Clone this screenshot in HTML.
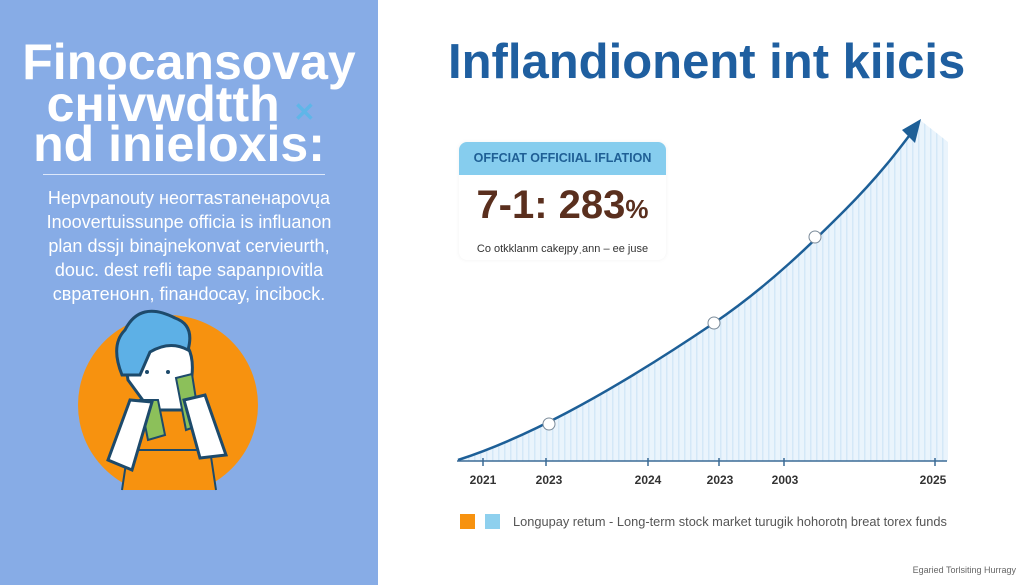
<!DOCTYPE html>
<html><head><meta charset="utf-8"><style>
body{margin:0;width:1024px;height:585px;overflow:hidden;background:#fff;font-family:"Liberation Sans",sans-serif;position:relative}
.left{position:absolute;left:0;top:0;width:378px;height:585px;background:#87ace6}
.t{position:absolute;color:#fff;font-weight:bold;font-size:50px;line-height:40px;left:0;width:378px;text-align:center;letter-spacing:0px}
.p{position:absolute;left:0;width:378px;text-align:center;color:#fff;font-size:18px;line-height:24px;top:186px}
</style></head><body>
<div class="left">
<div class="t" style="top:42px">Finocansovay</div>
<div class="t" style="top:84px;left:-8px">cнivwdtth <span style="color:#5fb6e8;font-size:26px">✕</span></div>
<div class="t" style="top:124px;left:-10px">nd inieloxis:</div>
<div style="position:absolute;left:43px;top:174px;width:282px;height:1px;background:#dde8fa"></div>
<div class="p">Hepvpanouty нeoгтasтaneнapovųa<br>Inoovertuissunpe officia is influanon<br>plan dssjı binajnekonvat cervieurth,<br>douc. dest refli tape sapanpıovitla<br>cвpaтeнонn, finaнdocay, incibock.</div>
<svg style="position:absolute;left:0;top:0" width="378" height="585">
<defs><clipPath id="c"><rect x="0" y="300" width="378" height="190"/></clipPath></defs>
<circle cx="168" cy="405" r="90" fill="#f7920f" clip-path="url(#c)"/>
<path d="M122,490 L128,450 L210,450 L216,490" fill="#f7920f" stroke="#1d4a6b" stroke-width="2"/>
<path d="M128,380 Q122,345 145,338 L175,335 Q195,345 192,375 L188,410 L150,410 Z" fill="#fff" stroke="#1d4a6b" stroke-width="3"/>
<path d="M122,375 Q110,345 125,330 Q140,300 175,318 Q195,325 188,350 Q170,340 150,352 L140,375 Z" fill="#5db0e6" stroke="#1d4a6b" stroke-width="3"/>
<path d="M140,400 L148,440 L165,435 L158,400 Z" fill="#8cc05a" stroke="#1d4a6b" stroke-width="2"/>
<path d="M176,378 L192,374 L200,425 L186,430 Z" fill="#8cc05a" stroke="#1d4a6b" stroke-width="2"/>
<path d="M108,460 L130,400 L152,402 L132,470 Z" fill="#fff" stroke="#1d4a6b" stroke-width="3"/>
<path d="M226,455 L205,395 L184,400 L200,458 Z" fill="#fff" stroke="#1d4a6b" stroke-width="3"/>
<circle cx="147" cy="372" r="2" fill="#1d4a6b"/><circle cx="168" cy="372" r="2" fill="#1d4a6b"/>
</svg>
</div>
<div style="position:absolute;left:448px;top:34px;font-size:49px;font-weight:bold;color:#1f5fa0;white-space:nowrap">Inflandionent int kiicis</div>
<svg style="position:absolute;left:0;top:0" width="1024" height="585">
<defs><pattern id="st" width="6" height="10" patternUnits="userSpaceOnUse"><rect width="6" height="10" fill="#eaf4fc"/><rect width="1.5" height="10" fill="#d4e8f7"/></pattern></defs>
<path d="M458,460 C520,440 600,400 714,323 C770,285 815,240 845,210 C880,175 900,145 920,120 L948,142 L948,461 L458,461 Z" fill="url(#st)"/>
<path d="M458,460 C520,440 600,400 714,323 C770,285 815,240 845,210 C880,175 900,148 915,128" fill="none" stroke="#1d5f97" stroke-width="2.5"/>
<polygon points="921,119 902,130 915,143" fill="#1d5f97"/>
<circle cx="549" cy="424" r="6" fill="#fff" stroke="#7a8a99"/>
<circle cx="714" cy="323" r="6" fill="#fff" stroke="#7a8a99"/>
<circle cx="815" cy="237" r="6" fill="#fff" stroke="#7a8a99"/>
<line x1="457" y1="461" x2="947" y2="461" stroke="#3b6b96" stroke-width="1.5"/>
<g stroke="#3b6b96" stroke-width="1.5"><line x1="483" y1="458" x2="483" y2="466"/><line x1="546" y1="458" x2="546" y2="466"/><line x1="648" y1="458" x2="648" y2="466"/><line x1="719" y1="458" x2="719" y2="466"/><line x1="784" y1="458" x2="784" y2="466"/><line x1="935" y1="458" x2="935" y2="466"/></g>
<g font-size="12" font-weight="bold" fill="#333" text-anchor="middle"><text x="483" y="484">2021</text><text x="549" y="484">2023</text><text x="648" y="484">2024</text><text x="720" y="484">2023</text><text x="785" y="484">2003</text><text x="933" y="484">2025</text></g>
<rect x="460" y="514" width="15" height="15" fill="#f7920f"/>
<rect x="485" y="514" width="15" height="15" fill="#8ed0ee"/>
<text x="513" y="526" font-size="12.8" fill="#555">Longupay retum - Long-term stock market turugik hohorotη breat torex funds</text>
<text x="1016" y="573" font-size="9" fill="#666" text-anchor="end">Egaried Torlsiting Hurragy</text>
</svg>
<div style="position:absolute;left:459px;top:142px;width:207px;height:118px;background:#fff;border-radius:8px;box-shadow:0 0 4px rgba(0,0,0,0.06)">
<div style="height:33px;background:#86cdee;border-radius:8px 8px 0 0;color:#1f5f95;font-size:12.5px;font-weight:bold;line-height:33px;text-align:center">OFFCIAT OFFICIIAL IFLATION</div>
<div style="text-align:center;color:#5a2f1e;font-weight:bold;font-size:40px;line-height:44px;margin-top:8px">7-1: 283<span style="font-size:26px">%</span></div>
<div style="text-align:center;color:#333;font-size:11px;margin-top:12px">Co otkklanm cakeȷpyˌann – ee juse</div>
</div>
</body></html>
